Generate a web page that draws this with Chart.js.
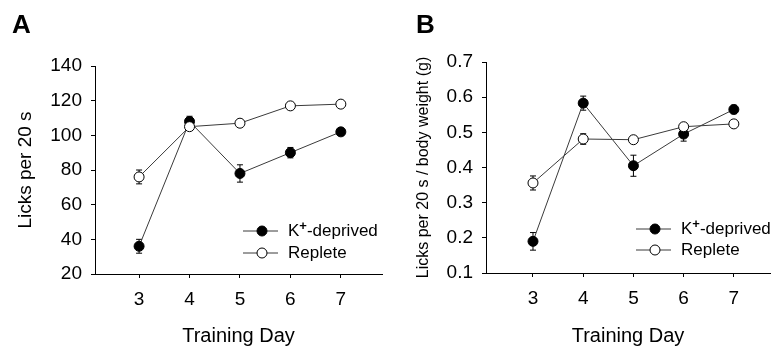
<!DOCTYPE html>
<html>
<head>
<meta charset="utf-8">
<script src="https://cdn.jsdelivr.net/npm/chart.js@4/dist/chart.umd.min.js"></script>
<style>
  body { margin: 0; background: #fff; }
  #wrap { position: relative; width: 776px; height: 350px; overflow: hidden; }
  canvas { position: absolute; top: 0; }
  .panel { position: absolute; top: 11px; font: bold 26px "Liberation Sans", Arial, sans-serif; line-height: 1; color: #000; }
</style>
</head>
<body>
<div id="wrap">
  <canvas id="chartA" width="388" height="350" style="left:0"></canvas>
  <canvas id="chartB" width="388" height="350" style="left:388px"></canvas>
  <div class="panel" style="left:12px">A</div>
  <div class="panel" style="left:416px">B</div>
</div>
<script>
  // training days on the x axis
  const days = [3, 4, 5, 6, 7];

  // panel A: licks per 20 s
  const licksDeprived = [36, 108, 78, 90, 102];
  const licksDeprivedErr = [4, 3, 5, 3, 2];
  const licksReplete = [76, 105, 107, 117, 118];
  const licksRepleteErr = [4, 2, 1.5, 1.5, 1.5];
  const licksTicks = [20, 40, 60, 80, 100, 120, 140];

  // panel B: licks per 20 s / body weight (g)
  const perWeightDeprived = [0.19, 0.583, 0.405, 0.495, 0.565];
  const perWeightDeprivedErr = [0.025, 0.02, 0.03, 0.02, 0.012];
  const perWeightReplete = [0.356, 0.481, 0.479, 0.516, 0.524];
  const perWeightRepleteErr = [0.02, 0.015, 0.008, 0.008, 0.008];
  const perWeightTicks = [0.1, 0.2, 0.3, 0.4, 0.5, 0.6, 0.7];

  const FONT = '"Liberation Sans", Arial, sans-serif';
  const LINE = '#3a3a3a';

  function points(values) {
    return days.map((d, i) => ({ x: d, y: values[i] }));
  }

  // vertical error bars with small caps, drawn under the markers
  const errorBars = {
    id: 'errorBars',
    beforeDatasetsDraw(chart) {
      const ctx = chart.ctx;
      const xs = chart.scales.x, ys = chart.scales.y;
      ctx.save();
      ctx.strokeStyle = '#000';
      ctx.lineWidth = 1;
      chart.data.datasets.forEach(ds => {
        ds.data.forEach((p, i) => {
          const e = ds.errors[i];
          const x = xs.getPixelForValue(p.x);
          const y1 = ys.getPixelForValue(p.y - e);
          const y2 = ys.getPixelForValue(p.y + e);
          ctx.beginPath();
          ctx.moveTo(x, y1); ctx.lineTo(x, y2);
          ctx.moveTo(x - 3, y1); ctx.lineTo(x + 3, y1);
          ctx.moveTo(x - 3, y2); ctx.lineTo(x + 3, y2);
          ctx.stroke();
        });
      });
      ctx.restore();
    }
  };

  // legend in the lower right of the plot, as in the original figure
  const figLegend = {
    id: 'figLegend',
    afterDraw(chart, args, opts) {
      const ctx = chart.ctx;
      const rows = [
        { y: opts.y, fill: '#000', label: ['K', '+', '-deprived'] },
        { y: opts.y + opts.gap, fill: '#fff', label: ['Replete'] }
      ];
      ctx.save();
      rows.forEach(r => {
        ctx.strokeStyle = LINE;
        ctx.lineWidth = 1;
        ctx.beginPath();
        ctx.moveTo(opts.x, r.y); ctx.lineTo(opts.x + 35, r.y);
        ctx.stroke();
        ctx.beginPath();
        ctx.arc(opts.x + 19, r.y, 5, 0, Math.PI * 2);
        ctx.fillStyle = r.fill;
        ctx.fill();
        ctx.strokeStyle = '#000';
        ctx.stroke();
        ctx.fillStyle = '#000';
        ctx.textBaseline = 'middle';
        let tx = opts.x + 45;
        ctx.font = '17px ' + FONT;
        ctx.fillText(r.label[0], tx, r.y);
        tx += ctx.measureText(r.label[0]).width;
        if (r.label.length > 1) {
          ctx.font = 'bold 13px ' + FONT;
          ctx.fillText(r.label[1], tx, r.y - 5);
          tx += ctx.measureText(r.label[1]).width;
          ctx.font = '17px ' + FONT;
          ctx.fillText(r.label[2], tx, r.y);
        }
      });
      ctx.restore();
    }
  };

  function makeChart(id, cfg) {
    const tickFont = { family: FONT, size: 19 };
    return new Chart(document.getElementById(id), {
      type: 'line',
      data: {
        datasets: [
          {
            label: 'K+-deprived',
            data: points(cfg.deprived),
            errors: cfg.deprivedErr,
            borderColor: LINE,
            borderWidth: 1,
            pointRadius: 5,
            pointBackgroundColor: '#000',
            pointBorderColor: '#000',
            pointBorderWidth: 1,
            order: 1
          },
          {
            label: 'Replete',
            data: points(cfg.replete),
            errors: cfg.repleteErr,
            borderColor: LINE,
            borderWidth: 1,
            pointRadius: 5,
            pointBackgroundColor: '#fff',
            pointBorderColor: '#000',
            pointBorderWidth: 1,
            order: 0
          }
        ]
      },
      options: {
        responsive: false,
        animation: false,
        layout: { padding: { left: 0, right: 0, top: cfg.top, bottom: 0 } },
        plugins: {
          legend: { display: false },
          tooltip: { enabled: false },
          figLegend: cfg.legend
        },
        scales: {
          x: {
            type: 'linear',
            min: cfg.xMin,
            max: cfg.xMax,
            afterBuildTicks: s => { s.ticks = days.map(v => ({ value: v })); },
            afterFit: s => { s.height = 350 - cfg.bottom; },
            grid: { display: true, drawOnChartArea: false, drawTicks: true, tickLength: 4, color: '#000' },
            border: { display: true, color: '#000', width: 1 },
            ticks: { color: '#000', font: tickFont, padding: 10 },
            title: { display: true, text: 'Training Day', color: '#000', font: { family: FONT, size: 20 }, padding: { top: 0, bottom: 2 } }
          },
          y: {
            min: cfg.yTicks[0],
            max: cfg.yTicks[cfg.yTicks.length - 1],
            afterBuildTicks: s => { s.ticks = cfg.yTicks.map(v => ({ value: v })); },
            afterFit: s => { s.width = cfg.left; },
            grid: { display: true, drawOnChartArea: false, drawTicks: true, tickLength: 4, color: '#000' },
            border: { display: true, color: '#000', width: 1 },
            ticks: { color: '#000', font: tickFont, padding: 9, callback: cfg.fmt },
            title: { display: true, text: cfg.yTitle, color: '#000', font: { family: FONT, size: cfg.yTitleSize }, padding: { top: cfg.yTitlePad, bottom: 0 } }
          }
        }
      },
      plugins: [errorBars, figLegend]
    });
  }

  makeChart('chartA', {
    deprived: licksDeprived, deprivedErr: licksDeprivedErr,
    replete: licksReplete, repleteErr: licksRepleteErr,
    yTicks: licksTicks, fmt: v => v,
    yTitle: 'Licks per 20 s', yTitleSize: 19, yTitlePad: 14,
    left: 95, top: 66, bottom: 274,
    xMin: 2.126, xMax: 7.816,
    legend: { x: 243, y: 231, gap: 22 }
  });

  makeChart('chartB', {
    deprived: perWeightDeprived, deprivedErr: perWeightDeprivedErr,
    replete: perWeightReplete, repleteErr: perWeightRepleteErr,
    yTicks: perWeightTicks, fmt: v => v.toFixed(1),
    yTitle: 'Licks per 20 s / body weight (g)', yTitleSize: 16, yTitlePad: 26,
    left: 98, top: 62, bottom: 273,
    xMin: 2.064, xMax: 7.72,
    legend: { x: 248, y: 229, gap: 21 }
  });
</script>
</body>
</html>
